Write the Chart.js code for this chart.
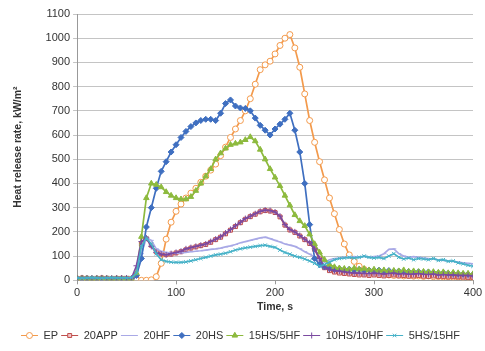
<!DOCTYPE html>
<html>
<head>
<meta charset="utf-8">
<script src="https://cdn.jsdelivr.net/npm/chart.js@4.4.1/dist/chart.umd.min.js"></script>
<style>
  html, body { margin: 0; padding: 0; background: #fff; }
  #wrap { width: 485px; height: 351px; }
</style>
</head>
<body>
<div id="wrap"><canvas id="hrrChart" width="485" height="351"></canvas></div>
<script>
// time axis, s (every 5 s)
let times = [];
for (let t = 0; t <= 400; t += 5) times.push(t);

let seriesNames = ['EP', '20APP', '20HF', '20HS', '15HS/5HF', '10HS/10HF', '5HS/15HF'];

// heat release rate, kW/m2
let epValues = [
  5, 6, 5, 4, 5, 6, 5, 4, 5, 5,
  4, 3, 2, 0, 0, 2, 15, 70, 170, 240,
  285, 315, 340, 360, 380, 405, 430, 455, 480, 515,
  550, 590, 625, 660, 700, 750, 810, 870, 890, 905,
  935, 970, 1000, 1015, 960, 880, 770, 660, 570, 490,
  415, 340, 275, 210, 150, 105, 78, 58, 45, 36,
  30, 26, 24, 22, 20, 22, 18, 20, 17, 18,
  16, 18, 15, 16, 14, 15, 13, 14, 12, 12,
  10
];
let app20Values = [
  8, 9, 8, 7, 8, 9, 8, 7, 8, 8,
  8, 7, 20, 150, 172, 145, 118, 110, 106, 108,
  113, 118, 126, 133, 138, 143, 148, 157, 168, 178,
  192, 207, 222, 238, 252, 263, 273, 283, 288, 286,
  280, 262, 228, 208, 198, 183, 168, 152, 128, 88,
  52, 40, 34, 30, 28, 26, 24, 22, 22, 20,
  22, 20, 18, 20, 22, 18, 20, 17, 18, 20,
  17, 16, 18, 15, 16, 14, 15, 14, 13, 12,
  12
];
let hf20Values = [
  6, 7, 6, 5, 6, 7, 6, 5, 6, 6,
  6, 5, 20, 110, 175, 165, 130, 120, 115, 112,
  112, 113, 115, 118, 120, 122, 125, 128, 130, 133,
  138, 142, 148, 155, 160, 165, 170, 175, 178, 172,
  165, 158, 150, 145, 140, 130, 118, 108, 95, 80,
  75, 85, 90, 92, 95, 95, 98, 95, 100, 95,
  98, 100, 110, 128, 130, 110, 100, 95, 98, 95,
  92, 90, 88, 85, 82, 80, 78, 75, 72, 70,
  68
];
let hs20Values = [
  6, 5, 6, 7, 5, 6, 5, 6, 5, 6,
  5, 6, 20, 90, 220, 300, 380, 450, 490, 530,
  560, 590, 615, 635, 650, 660, 665, 665, 660, 690,
  730, 745, 720, 712, 710, 700, 670, 640, 620, 600,
  625, 645, 665, 690, 620, 530, 400, 230, 90, 65,
  55, 50, 45, 48, 44, 46, 42, 45, 40, 42,
  40, 42, 38, 40, 36, 38, 35, 36, 34, 35,
  33, 34, 32, 30, 31, 29, 28, 27, 26, 25,
  24
];
let hs15hf5Values = [
  7, 8, 7, 6, 7, 8, 7, 6, 7, 7,
  7, 6, 30, 180, 340, 400, 395, 385, 365, 350,
  340, 335, 335, 345, 370, 400, 430, 460, 500, 525,
  545, 560, 565, 570, 580, 592, 575, 540, 500, 460,
  425, 390, 350, 310, 270, 245, 225, 190, 150, 115,
  85, 65, 55, 50, 48, 45, 50, 45, 48, 42,
  45, 40, 42, 38, 40, 38, 42, 36, 38, 35,
  36, 34, 35, 32, 34, 30, 32, 30, 28, 28,
  26
];
let hs10hf10Values = [
  8, 10, 9, 8, 9, 10, 9, 8, 9, 9,
  9, 8, 60, 160, 175, 140, 115, 108, 105, 110,
  115, 120, 130, 135, 140, 145, 150, 160, 170, 180,
  195, 210, 225, 240, 255, 265, 275, 285, 290, 288,
  282, 265, 230, 210, 200, 185, 170, 155, 130, 90,
  55, 45, 40, 38, 35, 32, 30, 30, 28, 28,
  30, 28, 26, 28, 30, 26, 28, 25, 26, 28,
  25, 24, 26, 22, 24, 22, 22, 20, 20, 20,
  18
];
let hs5hf15Values = [
  10, 9, 10, 11, 10, 9, 10, 11, 10, 10,
  10, 11, 30, 140, 175, 150, 110, 85, 78, 75,
  74, 74, 76, 80, 85, 90, 95, 100, 105, 108,
  112, 118, 125, 130, 134, 137, 140, 143, 145, 140,
  136, 125, 115, 108, 100, 95, 88, 80, 70, 58,
  65, 75, 85, 90, 92, 95, 92, 95, 100, 95,
  92, 95, 90, 100, 110, 95, 88, 92, 85, 90,
  88, 85, 90, 82, 85, 78, 80, 72, 68, 62,
  58
];

let allValues = [epValues, app20Values, hf20Values, hs20Values, hs15hf5Values, hs10hf10Values, hs5hf15Values];
let lineColors = ['#f39a4c', '#c0504d', '#a9a9e6', '#3f6fc0', '#8dba3e', '#7b4aa0', '#47b2c8'];
let markerFills = ['#ffffff', '#f2c4c8', '#a9a9e6', '#3f6fc0', '#8dba3e', '#7b4aa0', '#47b2c8'];
let markerStyles = ['circle', 'rect', 'dash', 'rectRot', 'triangle', 'cross', 'crossRot'];
let markerSizes = [3, 2.8, 2.5, 3, 3.2, 3, 2.5];

let datasets = seriesNames.map((name, i) => ({
  label: name,
  data: times.map((t, j) => ({ x: t, y: allValues[i][j] })),
  borderColor: lineColors[i],
  backgroundColor: markerFills[i],
  borderWidth: 1.7,
  pointStyle: markerStyles[i],
  pointRadius: markerSizes[i],
  pointBorderWidth: 1,
  pointBorderColor: lineColors[i],
  pointBackgroundColor: markerFills[i],
  tension: 0,
  order: seriesNames.length - i
}));

// draws the marker in the middle of each legend line
const legendMarkers = {
  id: 'legendMarkers',
  afterDraw(chart) {
    let legend = chart.legend;
    if (!legend || !legend.legendHitBoxes) return;
    let ctx = chart.ctx;
    let boxW = legend.options.labels.pointStyleWidth;
    legend.legendItems.forEach((item, k) => {
      let box = legend.legendHitBoxes[k];
      let i = item.datasetIndex;
      ctx.save();
      ctx.strokeStyle = lineColors[i];
      ctx.fillStyle = markerFills[i];
      ctx.lineWidth = 1;
      Chart.helpers.drawPoint(ctx, {
        pointStyle: markerStyles[i],
        radius: markerSizes[i],
        borderWidth: 1,
        rotation: 0
      }, box.left + boxW / 2, box.top + box.height / 2);
      ctx.restore();
    });
  }
};

let fontFamily = '"Liberation Sans", Arial, sans-serif';

new Chart(document.getElementById('hrrChart').getContext('2d'), {
  type: 'line',
  data: { datasets: datasets },
  options: {
    responsive: false,
    animation: false,
    layout: { padding: { left: 8, right: 12, top: 14, bottom: 0 } },
    plugins: {
      legend: {
        position: 'bottom',
        labels: {
          usePointStyle: true,
          pointStyle: 'line',
          pointStyleWidth: 17,
          padding: 3,
          color: '#333',
          font: { family: fontFamily, size: 11 },
          sort: (a, b) => a.datasetIndex - b.datasetIndex
        }
      },
      tooltip: { enabled: false }
    },
    scales: {
      x: {
        type: 'linear',
        min: 0,
        max: 400,
        ticks: { stepSize: 100, color: '#333', padding: 2, font: { family: fontFamily, size: 11 },
                 callback: v => String(v) },
        grid: { drawOnChartArea: false, drawTicks: true, tickLength: 4, color: '#999' },
        border: { color: '#999' },
        title: { display: true, text: 'Time, s', color: '#333', padding: { top: 0, bottom: 15 },
                 font: { family: fontFamily, size: 10.5, weight: 'bold', lineHeight: 1 } }
      },
      y: {
        min: 0,
        max: 1100,
        ticks: { stepSize: 100, color: '#333', font: { family: fontFamily, size: 11 },
                 callback: v => String(v) },
        grid: { color: '#c4c4c4', tickLength: 4 },
        border: { color: '#999' },
        title: { display: true, text: 'Heat release rate, kW/m²', color: '#333', padding: { top: 4, bottom: 18 },
                 font: { family: fontFamily, size: 10.5, weight: 'bold' } }
      }
    }
  },
  plugins: [legendMarkers]
});
</script>
</body>
</html>
